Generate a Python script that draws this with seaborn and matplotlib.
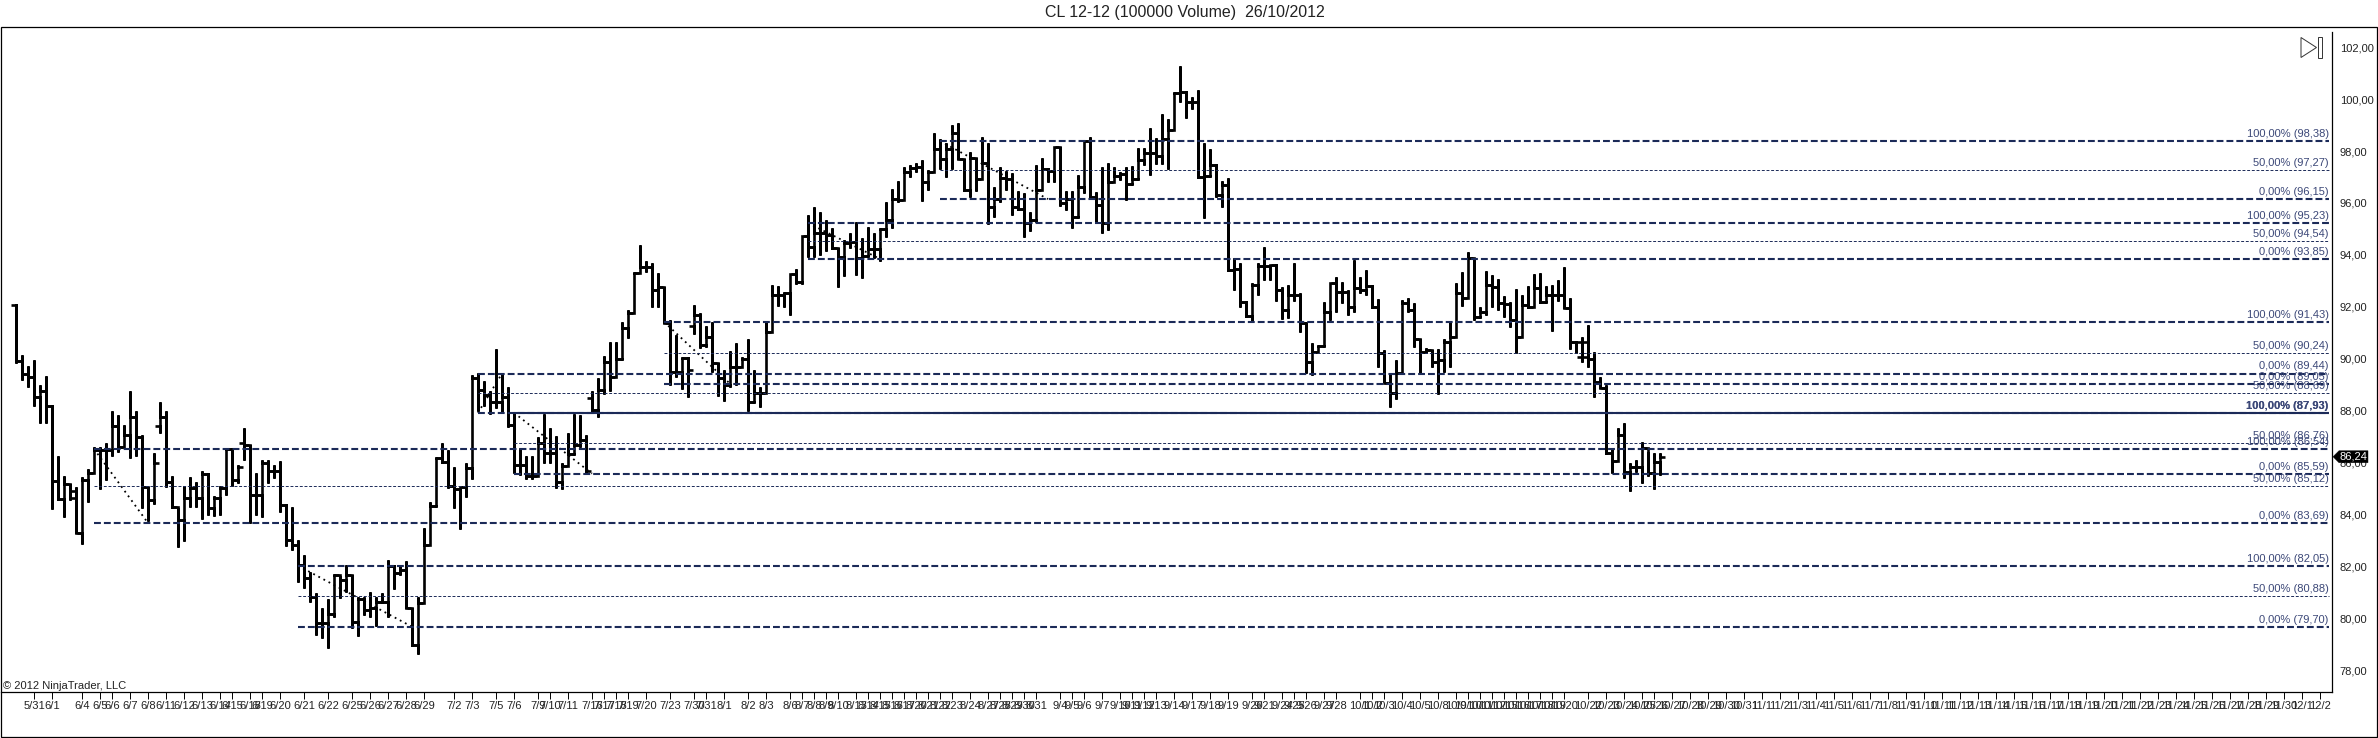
import numpy as np
import pandas as pd
import seaborn as sns
import matplotlib.pyplot as plt
from matplotlib.patches import Polygon, Rectangle
from matplotlib.transforms import blended_transform_factory

W, H = 2378, 738

# bar values, one entry per 100000 volume bar
highs = [
    92.12, 90.16, 89.73, 89.96, 89.00, 89.36, 88.23, 86.25, 85.48, 85.19, 85.09, 85.45, 85.77, 86.63, 86.63,
    86.76, 87.98, 87.85, 87.46, 88.75, 88.01, 87.08, 85.09, 86.37, 88.36, 88.01, 85.48, 84.26, 85.13, 85.45,
    85.27, 85.71, 85.60, 84.73, 85.12, 86.57, 86.57, 85.92, 87.34, 86.69, 85.60, 86.12, 86.12, 85.92, 86.09,
    84.42, 84.30, 83.04, 82.46, 81.82, 81.01, 80.41, 80.76, 81.73, 81.66, 82.08, 81.69, 80.86, 80.86, 81.05,
    80.86, 81.01, 82.27, 82.08, 82.08, 82.21, 80.41, 80.86, 83.49, 84.51, 86.22, 86.76, 86.50, 85.83, 85.09,
    86.01, 89.39, 89.45, 89.17, 88.75, 90.37, 89.45, 88.94, 87.94, 86.57, 86.25, 86.25, 86.99, 87.87, 87.34,
    87.04, 85.99, 87.17, 87.87, 87.85, 87.08, 88.75, 89.26, 90.12, 90.67, 90.67, 91.44, 91.89, 93.36, 94.39,
    93.75, 93.68, 93.30, 92.78, 91.50, 90.92, 90.09, 90.09, 92.08, 91.76, 91.25, 91.44, 89.84, 89.58, 90.32,
    90.60, 90.07, 90.76, 89.58, 88.94, 91.44, 92.85, 92.81, 92.59, 93.27, 93.45, 94.73, 95.54, 95.86, 95.67,
    95.35, 95.03, 94.26, 94.58, 94.83, 95.26, 94.64, 95.07, 94.83, 95.03, 96.05, 96.53, 96.86, 97.40, 97.46,
    97.53, 97.66, 97.27, 98.68, 98.45, 98.29, 99.00, 99.09, 97.68, 97.97, 97.75, 98.52, 98.29, 96.60, 97.37,
    97.24, 97.16, 96.47, 96.40, 95.67, 97.46, 97.75, 97.36, 98.17, 98.17, 96.47, 96.47, 97.07, 98.40, 98.52,
    96.44, 97.40, 97.55, 97.37, 97.21, 97.40, 97.44, 98.13, 98.10, 98.87, 98.49, 99.41, 99.22, 100.28, 101.27,
    100.32, 100.09, 100.35, 98.32, 98.06, 97.50, 96.85, 96.97, 93.87, 93.68, 92.24, 92.91, 93.68, 94.32, 93.62,
    93.65, 92.76, 92.85, 93.68, 92.53, 91.44, 90.63, 90.54, 92.21, 92.91, 93.17, 92.97, 92.65, 93.81, 93.17,
    93.42, 92.85, 92.30, 90.35, 89.45, 89.96, 92.27, 92.33, 92.17, 90.76, 90.44, 90.35, 90.37, 90.76, 91.44,
    92.91, 93.36, 94.13, 93.87, 92.01, 93.40, 93.23, 93.06, 92.42, 92.21, 92.68, 92.46, 92.81, 93.27, 93.32,
    92.81, 92.85, 93.04, 93.55, 92.33, 90.71, 90.83, 91.31, 90.28, 89.32, 89.00, 86.52, 87.33, 87.52, 86.01,
    86.11, 86.79, 86.41, 86.37, 86.37,
]
lows = [
    89.86, 89.19, 88.94, 88.19, 87.53, 87.55, 84.22, 84.58, 83.94, 84.58, 83.32, 82.87, 84.48, 85.60, 84.99,
    85.35, 86.28, 86.41, 86.63, 86.18, 86.25, 84.26, 83.75, 84.42, 87.17, 85.07, 84.26, 82.76, 83.01, 84.30,
    84.30, 83.84, 84.00, 83.96, 84.00, 84.77, 85.13, 85.22, 86.12, 83.71, 84.00, 83.94, 85.22, 85.41, 84.13,
    82.81, 82.66, 81.44, 81.18, 80.67, 79.39, 79.26, 78.90, 80.07, 80.80, 81.05, 79.64, 79.35, 80.16, 80.07,
    79.71, 80.60, 80.07, 81.14, 81.69, 80.41, 78.96, 78.64, 80.60, 82.85, 84.32, 86.01, 85.03, 84.25, 83.45,
    84.68, 85.37, 87.98, 88.19, 87.89, 88.10, 87.91, 87.37, 85.60, 85.54, 85.37, 85.37, 85.60, 85.99, 85.99,
    85.03, 84.99, 86.18, 86.31, 86.63, 85.67, 87.98, 87.78, 88.65, 88.75, 89.32, 89.96, 90.80, 91.78, 93.30,
    93.36, 92.01, 92.01, 91.37, 89.00, 89.32, 88.84, 88.53, 90.96, 90.41, 90.48, 89.51, 88.59, 88.40, 88.94,
    89.00, 89.71, 88.01, 88.30, 88.14, 88.68, 91.05, 92.04, 92.01, 91.71, 92.87, 92.87, 93.91, 93.91, 94.00,
    94.17, 94.22, 92.78, 93.21, 94.25, 93.23, 93.13, 93.91, 93.87, 93.75, 94.68, 95.03, 96.05, 96.12, 97.01,
    97.21, 96.09, 96.50, 97.27, 97.29, 97.01, 97.29, 97.68, 96.47, 96.22, 96.47, 97.24, 95.19, 95.45, 96.05,
    96.50, 95.54, 95.73, 94.70, 94.93, 95.28, 96.75, 96.82, 96.82, 95.88, 95.73, 95.02, 95.41, 96.40, 96.24,
    95.28, 94.86, 94.96, 96.82, 96.89, 96.12, 96.69, 96.89, 97.46, 97.08, 97.50, 97.50, 97.29, 98.81, 99.90,
    99.28, 99.60, 96.95, 95.41, 96.99, 96.24, 95.86, 93.40, 92.65, 92.01, 91.63, 91.43, 92.46, 93.04, 93.04,
    92.24, 91.53, 91.56, 92.24, 91.05, 89.47, 89.39, 90.28, 90.47, 91.50, 91.82, 92.17, 91.69, 91.82, 92.53,
    92.46, 91.95, 89.70, 89.13, 88.14, 88.45, 89.47, 91.82, 90.47, 89.47, 90.22, 89.68, 88.65, 89.51, 89.70,
    90.86, 92.04, 92.33, 91.50, 91.56, 91.69, 91.99, 91.89, 91.63, 91.24, 90.22, 90.86, 91.95, 92.01, 92.14,
    92.14, 91.09, 92.24, 91.95, 90.37, 90.22, 89.90, 89.70, 88.55, 88.87, 86.34, 85.63, 86.08, 85.41, 84.93,
    85.67, 85.22, 85.50, 84.99, 85.54,
]
closes = [
    89.92, 89.41, 89.32, 88.55, 88.77, 88.19, 85.31, 84.60, 85.19, 84.94, 83.32, 85.35, 85.60, 86.50, 86.50,
    86.50, 87.44, 86.63, 87.08, 87.78, 87.01, 85.09, 84.58, 86.01, 87.78, 85.28, 84.32, 83.81, 84.64, 85.03,
    84.64, 85.58, 84.26, 84.64, 85.03, 86.53, 85.35, 85.86, 86.69, 84.77, 84.77, 86.01, 85.71, 85.71, 84.39,
    83.04, 82.85, 82.08, 81.57, 80.86, 79.84, 79.84, 80.19, 81.69, 81.50, 81.69, 79.90, 80.76, 80.35, 80.41,
    80.67, 80.67, 82.04, 81.78, 81.89, 80.41, 79.00, 80.60, 82.85, 84.35, 86.18, 86.05, 85.12, 84.99, 85.07,
    85.80, 89.26, 88.81, 88.62, 88.36, 88.36, 88.55, 87.46, 85.92, 85.92, 85.48, 85.48, 86.76, 86.40, 86.40,
    85.28, 85.89, 86.35, 86.69, 86.89, 85.71, 88.04, 88.81, 89.90, 89.32, 89.99, 91.18, 91.78, 93.30, 93.55,
    93.55, 92.66, 92.78, 91.40, 89.51, 89.51, 90.03, 89.58, 91.69, 90.54, 90.86, 89.84, 89.26, 89.00, 89.71,
    89.71, 89.99, 88.36, 88.71, 88.68, 91.05, 92.46, 92.46, 92.53, 93.27, 92.98, 94.73, 94.32, 94.83, 94.83,
    94.77, 94.26, 93.94, 94.45, 94.51, 93.87, 93.96, 94.23, 94.23, 94.99, 95.35, 96.14, 96.12, 97.21, 97.33,
    97.40, 96.82, 97.20, 98.06, 97.68, 98.06, 98.68, 97.68, 96.50, 97.72, 96.92, 97.55, 95.83, 96.14, 96.95,
    96.91, 95.86, 95.75, 95.22, 95.35, 96.50, 97.29, 97.24, 98.17, 95.99, 96.14, 95.47, 96.60, 98.40, 96.24,
    95.92, 95.22, 96.82, 97.04, 97.12, 96.73, 96.91, 97.65, 97.91, 97.91, 97.81, 98.45, 98.81, 100.24, 100.28,
    99.90, 99.90, 96.99, 97.04, 97.46, 96.31, 96.69, 93.42, 93.45, 92.21, 91.66, 92.85, 93.58, 93.58, 93.62,
    92.65, 91.89, 92.46, 92.46, 91.40, 89.90, 90.28, 90.50, 91.82, 92.91, 92.59, 92.59, 92.01, 92.72, 92.65,
    92.81, 92.01, 90.22, 89.09, 88.70, 89.47, 92.14, 91.89, 90.76, 90.28, 90.35, 89.90, 89.96, 90.67, 90.86,
    92.53, 92.33, 93.87, 91.63, 91.82, 92.85, 92.78, 92.14, 92.12, 91.50, 90.86, 92.08, 92.01, 92.72, 92.21,
    92.46, 92.46, 92.46, 91.95, 90.67, 90.67, 90.06, 89.99, 89.13, 88.87, 86.37, 86.08, 87.08, 85.67, 85.86,
    85.86, 86.56, 85.60, 86.05, 86.24,
]
opens = [
    92.08, 89.92, 89.41, 89.32, 88.55, 88.77, 88.19, 85.31, 84.60, 85.19, 84.64, 83.32, 85.35, 85.60, 86.50,
    86.50, 86.50, 87.44, 86.63, 87.08, 87.78, 87.01, 85.09, 84.58, 87.42, 87.78, 85.28, 84.32, 83.81, 84.64,
    85.03, 84.64, 85.58, 84.26, 84.64, 85.03, 86.53, 85.35, 86.76, 86.69, 84.77, 84.77, 86.01, 85.71, 85.71,
    84.39, 83.04, 82.85, 82.08, 81.57, 80.86, 79.84, 79.84, 80.19, 81.69, 81.50, 81.69, 79.90, 80.76, 80.35,
    80.41, 80.67, 80.67, 82.04, 81.78, 81.89, 80.41, 79.00, 80.60, 82.85, 84.35, 86.18, 86.05, 85.12, 84.99,
    85.07, 85.80, 89.26, 88.81, 88.62, 88.36, 88.36, 88.55, 87.46, 85.92, 85.92, 85.48, 85.48, 86.76, 86.40,
    86.40, 85.28, 85.89, 86.35, 86.69, 86.89, 88.49, 88.04, 88.81, 89.90, 89.32, 89.99, 91.18, 91.78, 93.30,
    93.55, 93.55, 92.66, 92.78, 91.40, 89.51, 89.51, 90.03, 91.25, 91.69, 90.54, 90.86, 89.84, 89.26, 89.00,
    89.71, 89.71, 89.99, 88.36, 88.71, 88.68, 91.05, 92.46, 92.46, 92.53, 93.27, 92.98, 94.73, 94.32, 94.83,
    94.83, 94.77, 94.26, 93.94, 94.45, 94.51, 93.87, 93.96, 94.23, 94.23, 94.99, 95.35, 96.14, 96.12, 97.21,
    97.33, 97.40, 96.82, 97.20, 98.06, 97.68, 98.06, 98.68, 97.68, 96.50, 97.72, 96.92, 97.55, 95.83, 96.14,
    96.95, 96.91, 95.86, 95.75, 95.22, 95.35, 96.50, 97.29, 97.24, 98.17, 95.99, 96.14, 95.47, 96.60, 98.40,
    96.24, 95.92, 95.22, 96.82, 97.04, 97.12, 96.73, 96.91, 97.65, 97.91, 97.91, 97.81, 98.45, 98.81, 100.24,
    100.28, 99.90, 99.90, 96.99, 97.04, 97.46, 96.31, 96.69, 93.42, 93.45, 92.21, 91.66, 92.85, 93.58, 93.58,
    93.62, 92.65, 91.89, 92.46, 92.46, 91.40, 89.90, 90.28, 90.50, 91.82, 92.91, 92.59, 92.59, 92.01, 92.72,
    92.65, 92.81, 92.01, 90.22, 89.09, 88.70, 89.47, 92.14, 91.89, 90.76, 90.28, 90.35, 89.90, 89.96, 90.67,
    90.86, 92.53, 92.33, 93.87, 91.63, 91.82, 92.85, 92.78, 92.14, 92.12, 91.50, 90.86, 92.08, 92.01, 92.72,
    92.21, 92.46, 92.46, 92.46, 91.95, 90.67, 90.09, 90.67, 89.99, 89.13, 88.87, 86.37, 86.08, 87.08, 85.67,
    85.86, 85.86, 86.56, 85.60, 86.05,
]

# date labels and the bar slot each one sits on
date_ticks = [
    3, 6, 11, 14, 16, 19, 22, 25, 28, 31, 34, 36, 39, 41, 44, 48, 52, 56, 59, 62, 65, 68, 73, 76, 80, 83, 87, 89,
    92, 96, 98, 100, 102, 105, 109, 113, 115, 118, 122, 125, 129, 131, 133, 135, 137, 140, 142, 144, 146, 148,
    150, 152, 154, 156, 159, 162, 164, 166, 168, 170, 174, 176, 178, 181, 184, 186, 188, 190, 193, 196, 199, 202,
    206, 208, 211, 213, 215, 218, 220, 224, 226, 228, 231, 234, 237, 240, 242, 244, 246, 248, 250, 252, 254, 256,
    258, 262, 265, 268, 271, 273, 276, 279, 282, 285, 288, 291, 294, 297, 300, 303, 306, 309, 312, 315, 318, 321,
    324, 327, 330, 333, 336, 339, 342, 345, 348, 351, 354, 357, 360, 363, 366, 369, 372, 375, 378, 381, 384,
]
date_labels = [
    "5/31", "6/1", "6/4", "6/5", "6/6", "6/7", "6/8", "6/11", "6/12", "6/13", "6/14", "6/15", "6/18", "6/19",
    "6/20", "6/21", "6/22", "6/25", "6/26", "6/27", "6/28", "6/29", "7/2", "7/3", "7/5", "7/6", "7/9", "7/10",
    "7/11", "7/16", "7/17", "7/18", "7/19", "7/20", "7/23", "7/30", "7/31", "8/1", "8/2", "8/3", "8/6", "8/7",
    "8/8", "8/9", "8/10", "8/13", "8/14", "8/15", "8/16", "8/17", "8/20", "8/21", "8/22", "8/23", "8/24", "8/27",
    "8/28", "8/29", "8/30", "8/31", "9/4", "9/5", "9/6", "9/7", "9/10", "9/11", "9/12", "9/13", "9/14", "9/17",
    "9/18", "9/19", "9/20", "9/21", "9/24", "9/25", "9/26", "9/27", "9/28", "10/1", "10/2", "10/3", "10/4",
    "10/5", "10/8", "10/9", "10/10", "10/11", "10/12", "10/15", "10/16", "10/17", "10/18", "10/19", "10/20",
    "10/22", "10/23", "10/24", "10/25", "10/26", "10/27", "10/28", "10/29", "10/30", "10/31", "11/1", "11/2",
    "11/3", "11/4", "11/5", "11/6", "11/7", "11/8", "11/9", "11/10", "11/11", "11/12", "11/13", "11/14", "11/15",
    "11/16", "11/17", "11/18", "11/19", "11/20", "11/21", "11/22", "11/23", "11/24", "11/25", "11/26", "11/27",
    "11/28", "11/29", "11/30", "12/1", "12/2",
]
price_ticks = [78, 80, 82, 84, 86, 88, 90, 92, 94, 96, 98, 100, 102]

# fibonacci retracements: price, percent, first bar
level_prices = [98.38, 97.27, 96.15, 95.23, 94.54, 93.85, 91.43, 90.24, 89.05, 89.44, 88.69, 87.93,
                87.93, 86.76, 85.59, 86.54, 85.12, 83.69, 82.05, 80.88, 79.70]
level_pcts = [100, 50, 0, 100, 50, 0, 100, 50, 0, 0, 50, 100, 100, 50, 0, 100, 50, 0, 100, 50, 0]
level_starts = [154, 154, 154, 132, 132, 132, 108, 108, 108, 77, 77, 77, 83, 83, 83, 13, 13, 13, 47, 47, 47]

# dotted trend line of each retracement
trend_from = [13, 47, 77, 83, 108, 132, 154]
trend_to = [22, 66, 81, 96, 119, 144, 172]
trend_price_from = [86.54, 82.05, 87.93, 87.93, 91.43, 95.23, 98.38]
trend_price_to = [83.69, 79.70, 89.44, 85.59, 89.05, 93.85, 96.15]

last_price = 86.24

NAVY = "#1b2a58"
LABEL = "#3c4878"
FONT = 8.0

sns.set_theme(style="white")
plt.rcParams["font.family"] = ["Liberation Sans", "DejaVu Sans"]

# long table: open tick, wick, close tick of each bar
rows = []
for i in range(len(closes)):
    xs = [i - 0.85, i, i, i, i, i + 0.85]
    ys = [opens[i], opens[i], lows[i], highs[i], closes[i], closes[i]]
    for x, y in zip(xs, ys):
        rows.append({"bar": i, "x": x, "price": y})
bars = pd.DataFrame(rows)

fig = plt.figure(figsize=(W / 100, H / 100), dpi=100, facecolor="white")
ax = fig.add_axes([1 / W, 1 - 692 / H, 2330.5 / W, 665 / H])

sns.lineplot(data=bars, x="x", y="price", units="bar", estimator=None, sort=False, color="black",
             linewidth=1.9, legend=False, ax=ax, solid_joinstyle="miter", solid_capstyle="butt")

ax.set_xlim(-2.5, 385.92)
ax.set_ylim(77.19, 102.77)

for x0, x1, p0, p1 in zip(trend_from, trend_to, trend_price_from, trend_price_to):
    ax.plot([x0, x1], [p0, p1], color="black", lw=1.3, ls=(0, (1, 2.2)), zorder=3)

label_end = 385.45
for price, pct, start in zip(level_prices, level_pcts, level_starts):
    # the two 100% lines at 87,93 overlap past bar 83 and read as one solid line
    solid = price == 87.93 and start == 83
    if solid:
        ax.hlines(price, start, label_end, color=NAVY, lw=1.5, zorder=4)
    elif pct == 50:
        ax.hlines(price, start, label_end, color=NAVY, lw=0.7, linestyles=(0, (3, 1.8)), zorder=4)
    else:
        ax.hlines(price, start, label_end, color=NAVY, lw=1.5, linestyles=(0, (3.3, 1.45)), zorder=4)
    text = f"{pct:.2f}% ({price:.2f})".replace(".", ",")
    ax.annotate(text, xy=(label_end, price), xytext=(0, 1.5), textcoords="offset points", ha="right", va="bottom",
                fontsize=FONT, color=LABEL, fontweight="bold" if price == 87.93 else "normal", zorder=5)

ax.set_xticks(date_ticks, date_labels)
ax.set_yticks(price_ticks, [f"{p:.2f}".replace(".", ",") for p in price_ticks])
ax.yaxis.tick_right()
ax.set_xlabel("")
ax.set_ylabel("")
ax.grid(False)
ax.tick_params(axis="x", bottom=True, length=5, width=0.7, pad=1.5, labelsize=FONT, color="black", labelcolor="#222222")
ax.tick_params(axis="y", right=True, left=False, length=4.5, width=0.7, pad=1.5, labelsize=FONT, color="black",
               labelcolor="#222222")

sns.despine(ax=ax, top=True, left=True, right=False, bottom=False)
for side in ["right", "bottom"]:
    ax.spines[side].set_color("black")
    ax.spines[side].set_linewidth(0.9)
ax.spines["right"].set_bounds(77.19, 102.58)

# frame round the chart
fig.add_artist(Rectangle((1 / W, 1 / H), (W - 2) / W, 710 / H, transform=fig.transFigure, fill=False,
                         edgecolor="black", linewidth=0.9))

fig.text(1185 / W, 1 - 12 / H, "CL 12-12 (100000 Volume)  26/10/2012", ha="center", va="center", fontsize=11.5,
         color="#222222")
fig.text(3 / W, 1 - 686 / H, "© 2012 NinjaTrader, LLC", ha="left", va="center", fontsize=FONT, color="#222222")

# end-of-chart button
fig.add_artist(Polygon([[2301 / W, 1 - 37.5 / H], [2316.5 / W, 1 - 47.5 / H], [2301 / W, 1 - 57.5 / H]],
                       closed=True, fill=False, edgecolor="#333333", linewidth=0.7, transform=fig.transFigure))
fig.add_artist(Rectangle((2318.3 / W, 1 - 57.5 / H), 3.4 / W, 20 / H, fill=False, edgecolor="#333333", linewidth=0.7,
                         transform=fig.transFigure))

# last price flag on the axis
flag = blended_transform_factory(fig.transFigure, ax.transData)
fig.add_artist(Polygon([[2333 / W, last_price], [2339 / W, last_price + 0.23], [2368 / W, last_price + 0.23],
                        [2368 / W, last_price - 0.23], [2339 / W, last_price - 0.23]],
                       closed=True, facecolor="black", edgecolor="black", linewidth=0.3, transform=flag))
fig.text(2353 / W, last_price, f"{last_price:.2f}".replace(".", ","), transform=flag, ha="center", va="center",
         fontsize=FONT, color="white", zorder=6)

fig.savefig("out.png", dpi=100, facecolor="white")
